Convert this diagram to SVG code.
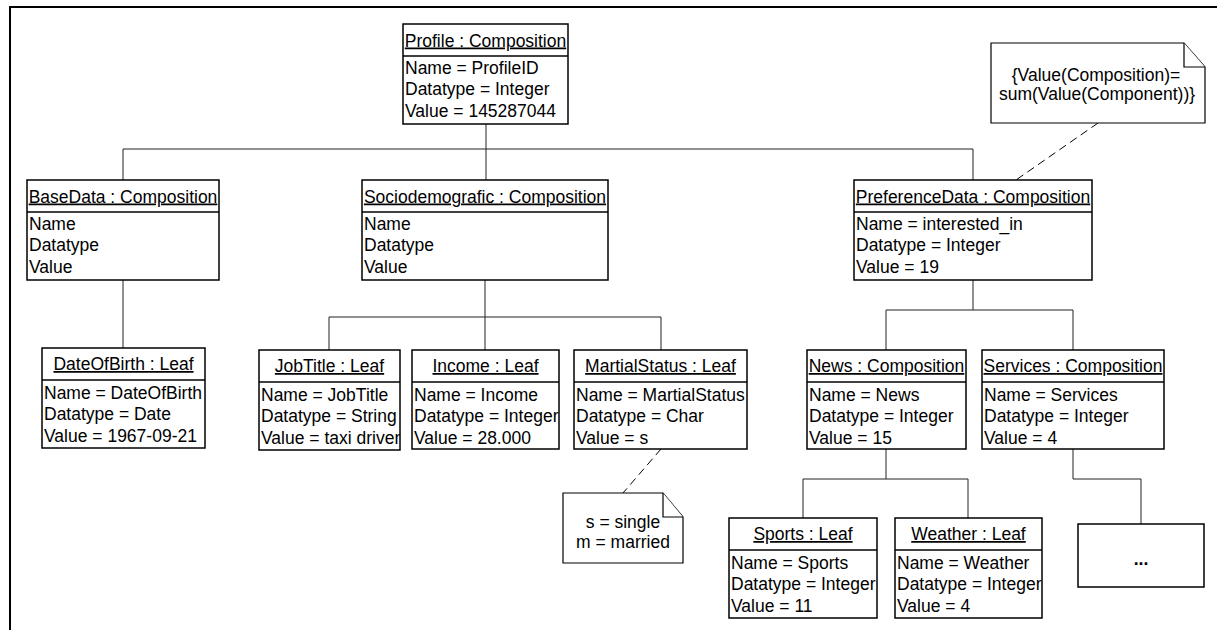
<svg xmlns="http://www.w3.org/2000/svg" width="1217" height="630" viewBox="0 0 1217 630">
  <style>
    text { font-family: "Liberation Sans", Arial, sans-serif; font-size: 17.5px; fill: #000; }
    .hd { text-anchor: middle; text-decoration: underline; }
    .nt { text-anchor: middle; }
    .box { fill: #fff; stroke: #000; stroke-width: 1.5; }
    .sep { stroke: #000; stroke-width: 1.5; }
    .conn { fill: none; stroke: #222; stroke-width: 1; }
    .dash { fill: none; stroke: #000; stroke-width: 1; stroke-dasharray: 8 5; }
    .note { fill: #fff; stroke: #000; stroke-width: 1.2; }
  </style>

  <!-- page frame (left and top edges) -->
  <path d="M10,630 V7 H1217" fill="none" stroke="#000" stroke-width="2"/>

  <!-- connectors -->
  <g id="connectors">
    <path class="conn" d="M486,124 V180"/>
    <path class="conn" d="M123,180 V149 H973 V180"/>
    <path class="conn" d="M123,280 V348"/>
    <path class="conn" d="M485,280 V350"/>
    <path class="conn" d="M329,350 V317 H661 V350"/>
    <path class="conn" d="M973,280 V310" stroke-width="2"/>
    <path class="conn" d="M886,350 V310 H1073 V350"/>
    <path class="conn" d="M886,449 V479"/>
    <path class="conn" d="M803,518 V479 H968 V518"/>
    <path class="conn" d="M1073,449 V479 H1141 V524"/>
    <path class="dash" d="M1098,123 L1016,180"/>
    <path class="dash" d="M661,449 L623,493"/>
  </g>

  <!-- Profile -->
  <g id="profile">
    <rect class="box" x="403" y="24" width="165" height="100"/>
    <line class="sep" x1="403" y1="56" x2="568" y2="56"/>
    <text class="hd" x="485.5" y="46.5">Profile : Composition</text>
    <text x="405" y="74">Name = ProfileID</text>
    <text x="405" y="95.3">Datatype = Integer</text>
    <text x="405" y="116.6">Value = 145287044</text>
  </g>

  <!-- BaseData -->
  <g id="basedata">
    <rect class="box" x="27" y="180" width="192" height="100"/>
    <line class="sep" x1="27" y1="212" x2="219" y2="212"/>
    <text class="hd" x="123" y="202.5">BaseData : Composition</text>
    <text x="29" y="230">Name</text>
    <text x="29" y="251.3">Datatype</text>
    <text x="29" y="272.6">Value</text>
  </g>

  <!-- Sociodemografic -->
  <g id="sociodemografic">
    <rect class="box" x="362" y="180" width="246" height="100"/>
    <line class="sep" x1="362" y1="212" x2="608" y2="212"/>
    <text class="hd" x="485" y="202.5">Sociodemografic : Composition</text>
    <text x="364" y="230">Name</text>
    <text x="364" y="251.3">Datatype</text>
    <text x="364" y="272.6">Value</text>
  </g>

  <!-- PreferenceData -->
  <g id="preferencedata">
    <rect class="box" x="854" y="180" width="238" height="100"/>
    <line class="sep" x1="854" y1="212" x2="1092" y2="212"/>
    <text class="hd" x="973" y="202.5">PreferenceData : Composition</text>
    <text x="856" y="230">Name = interested_in</text>
    <text x="856" y="251.3">Datatype = Integer</text>
    <text x="856" y="272.6">Value = 19</text>
  </g>

  <!-- DateOfBirth -->
  <g id="dateofbirth">
    <rect class="box" x="42" y="348" width="163" height="100"/>
    <line class="sep" x1="42" y1="380" x2="205" y2="380"/>
    <text class="hd" x="123.5" y="370">DateOfBirth : Leaf</text>
    <text x="44" y="399">Name = DateOfBirth</text>
    <text x="44" y="420.3">Datatype = Date</text>
    <text x="44" y="441.6">Value = 1967-09-21</text>
  </g>

  <!-- JobTitle -->
  <g id="jobtitle">
    <rect class="box" x="259" y="350" width="141" height="100"/>
    <line class="sep" x1="259" y1="382" x2="400" y2="382"/>
    <text class="hd" x="329.5" y="372">JobTitle : Leaf</text>
    <text x="261" y="401">Name = JobTitle</text>
    <text x="261" y="422.3">Datatype = String</text>
    <text x="261" y="443.6">Value = taxi driver</text>
  </g>

  <!-- Income -->
  <g id="income">
    <rect class="box" x="412" y="350" width="147" height="99"/>
    <line class="sep" x1="412" y1="382" x2="559" y2="382"/>
    <text class="hd" x="485.5" y="372">Income : Leaf</text>
    <text x="414" y="401">Name = Income</text>
    <text x="414" y="422.3">Datatype = Integer</text>
    <text x="414" y="443.6">Value = 28.000</text>
  </g>

  <!-- MartialStatus -->
  <g id="martialstatus">
    <rect class="box" x="574" y="350" width="173" height="99"/>
    <line class="sep" x1="574" y1="382" x2="747" y2="382"/>
    <text class="hd" x="660.5" y="372">MartialStatus : Leaf</text>
    <text x="576" y="401">Name = MartialStatus</text>
    <text x="576" y="422.3">Datatype = Char</text>
    <text x="576" y="443.6">Value = s</text>
  </g>

  <!-- News -->
  <g id="news">
    <rect class="box" x="807" y="350" width="159" height="99"/>
    <line class="sep" x1="807" y1="382" x2="966" y2="382"/>
    <text class="hd" x="886.5" y="372">News : Composition</text>
    <text x="809" y="401">Name = News</text>
    <text x="809" y="422.3">Datatype = Integer</text>
    <text x="809" y="443.6">Value = 15</text>
  </g>

  <!-- Services -->
  <g id="services">
    <rect class="box" x="982" y="350" width="182" height="99"/>
    <line class="sep" x1="982" y1="382" x2="1164" y2="382"/>
    <text class="hd" x="1073" y="372">Services : Composition</text>
    <text x="984" y="401">Name = Services</text>
    <text x="984" y="422.3">Datatype = Integer</text>
    <text x="984" y="443.6">Value = 4</text>
  </g>

  <!-- Sports -->
  <g id="sports">
    <rect class="box" x="729" y="518" width="148" height="100"/>
    <line class="sep" x1="729" y1="550" x2="877" y2="550"/>
    <text class="hd" x="803" y="540">Sports : Leaf</text>
    <text x="731" y="569">Name = Sports</text>
    <text x="731" y="590.3">Datatype = Integer</text>
    <text x="731" y="611.6">Value = 11</text>
  </g>

  <!-- Weather -->
  <g id="weather">
    <rect class="box" x="895" y="518" width="147" height="100"/>
    <line class="sep" x1="895" y1="550" x2="1042" y2="550"/>
    <text class="hd" x="968.5" y="540">Weather : Leaf</text>
    <text x="897" y="569">Name = Weather</text>
    <text x="897" y="590.3">Datatype = Integer</text>
    <text x="897" y="611.6">Value = 4</text>
  </g>

  <!-- further services -->
  <g id="more">
    <rect class="box" x="1078" y="524" width="126" height="63"/>
    <text class="nt" x="1141" y="565" font-weight="bold" font-size="22">...</text>
  </g>

  <!-- constraint note -->
  <g id="note-sum">
    <path class="note" d="M991,43 H1184 L1205,67 V123 H991 Z"/>
    <path class="note" d="M1184,43 V67 H1205" fill="none"/>
    <text class="nt" x="1096" y="81">{Value(Composition)=</text>
    <text class="nt" x="1097" y="100">sum(Value(Component))}</text>
  </g>

  <!-- status legend note -->
  <g id="note-status">
    <path class="note" d="M563,493 H663 L683,517 V563 H563 Z"/>
    <path class="note" d="M663,493 V517 H683" fill="none"/>
    <text class="nt" x="623" y="528">s = single</text>
    <text class="nt" x="623" y="548">m = married</text>
  </g>
</svg>
